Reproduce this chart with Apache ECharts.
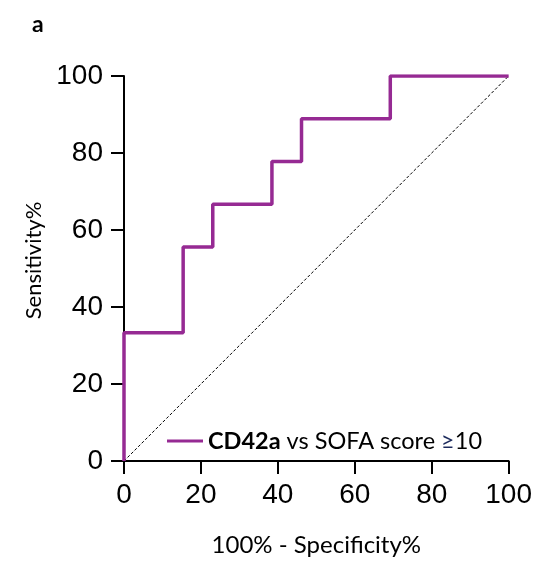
<!DOCTYPE html>
<html><head><meta charset="utf-8">
<script src="https://cdn.jsdelivr.net/npm/echarts@6/dist/echarts.min.js"></script>
<style>html,body{margin:0;padding:0;background:#fff}#c{width:535px;height:564px}</style>
</head><body><div id="c"></div>
<script>
// ROC curve: 100% - Specificity% (x) and Sensitivity% (y)
const fpr = [0, 0, 15.38, 15.38, 23.08, 23.08, 38.46, 38.46, 46.15, 46.15, 69.23, 69.23, 100];
const tpr = [0, 33.33, 33.33, 55.56, 55.56, 66.67, 66.67, 77.78, 77.78, 88.89, 88.89, 100, 100];
const refX = [0, 100];
const refY = [0, 100];
const xTicks = [0, 20, 40, 60, 80, 100];
const yTicks = [0, 20, 40, 60, 80, 100];
const seriesName = 'CD42a vs SOFA score ≥10';

const chart = echarts.init(document.getElementById('c'), null, {renderer: 'canvas'});
const tickFont = {fontFamily: 'Liberation Sans, Arial, sans-serif', fontSize: 28, color: '#000'};
chart.setOption({
  animation: false,
  backgroundColor: '#fff',
  title: {text: 'a', left: 27, top: 8, textStyle: {fontFamily: 'Lato, sans-serif', fontWeight: 'bold', fontSize: 23, color: '#000'}},
  grid: {left: 124, right: 26, top: 76, bottom: 103, containLabel: false},
  xAxis: {
    type: 'value', min: 0, max: 100, interval: 20,
    name: '100% - Specificity%', nameLocation: 'middle', nameGap: 72,
    nameTextStyle: {fontFamily: 'Lato, sans-serif', fontSize: 24, color: '#000'},
    axisLine: {show: true, lineStyle: {color: '#000', width: 2}},
    axisTick: {show: true, length: 13, lineStyle: {color: '#000', width: 2}},
    axisLabel: Object.assign({margin: 20, formatter: v => xTicks.includes(v) ? String(v) : ''}, tickFont),
    splitLine: {show: false}
  },
  yAxis: {
    type: 'value', min: 0, max: 100, interval: 20,
    name: 'Sensitivity%', nameLocation: 'middle', nameGap: 74,
    nameTextStyle: {fontFamily: 'Lato, sans-serif', fontSize: 22, color: '#000', padding: [0, 0, 0, 16]},
    axisLine: {show: true, lineStyle: {color: '#000', width: 2}},
    axisTick: {show: true, length: 13, lineStyle: {color: '#000', width: 2}},
    axisLabel: Object.assign({margin: 21, formatter: v => yTicks.includes(v) ? String(v) : ''}, tickFont),
    splitLine: {show: false}
  },
  legend: {
    data: [{name: seriesName, icon: 'rect'}], left: 162, top: 424, itemWidth: 36, itemHeight: 3, itemGap: 0,
    formatter: () => '{b|CD42a} vs SOFA score {g|≥}10',
    textStyle: {fontFamily: 'Lato, sans-serif', fontSize: 23.5, color: '#000',
      rich: {b: {fontFamily: 'Lato, sans-serif', fontSize: 23.5, fontWeight: 'bold', color: '#000'},
             g: {fontFamily: 'Lato, sans-serif', fontSize: 23.5, color: '#1c2a5c'}}}
  },
  series: [
    {
      name: 'reference', type: 'line', silent: true, symbol: 'none', z: 1,
      data: refX.map((x, i) => [x, refY[i]]),
      lineStyle: {color: '#000', width: 1, type: [3, 2]}
    },
    {
      name: seriesName, type: 'line', symbol: 'none', z: 3,
      data: fpr.map((x, i) => [x, tpr[i]]),
      lineStyle: {color: '#962a93', width: 3.5},
      itemStyle: {color: '#962a93'}
    }
  ]
});
</script></body></html>
